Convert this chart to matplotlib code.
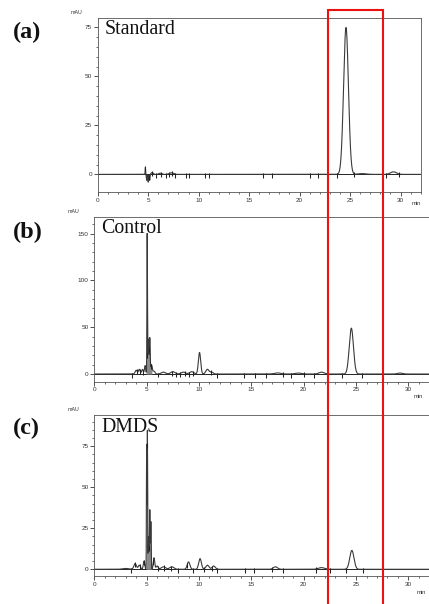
import numpy as np
import matplotlib
matplotlib.use("Agg")
import matplotlib.pyplot as plt
from matplotlib.patches import Rectangle

# ---------------- data ----------------
panel_labels = ["(a)", "(b)", "(c)"]
sample_names = ["Standard", "Control", "DMDS"]

# peak tables: retention time (min), height (mAU), sigma (min)
peaks_a_rt = [4.72, 4.85, 5.0, 5.15, 5.4, 6.2, 7.3, 24.6, 26.2, 29.3]
peaks_a_h = [3.5, -3.0, -4.0, -3.0, 1.0, 0.6, 0.8, 75.0, 0.4, 1.3]
peaks_a_w = [0.02, 0.03, 0.03, 0.03, 0.10, 0.15, 0.2, 0.24, 0.4, 0.3]

peaks_b_rt = [4.0, 4.3, 4.6, 4.85, 5.05, 5.15, 5.22, 5.3, 5.45, 5.7, 6.6, 7.5,
              8.5, 9.3, 10.05, 10.8, 11.2, 17.5, 19.5, 21.7, 24.55, 29.2]
peaks_b_h = [4.0, 5.0, 5.0, 9.0, 150.0, 30.0, 18.0, 32.0, 10.0, 3.0, 2.0, 2.5,
             2.0, 2.5, 23.0, 5.0, 2.0, 1.2, 1.0, 2.0, 49.0, 1.0]
peaks_b_w = [0.10, 0.08, 0.08, 0.06, 0.025, 0.03, 0.05, 0.03, 0.08, 0.10, 0.2, 0.2,
             0.2, 0.2, 0.11, 0.15, 0.15, 0.3, 0.3, 0.25, 0.2, 0.25]

peaks_c_rt = [3.0, 3.9, 4.3, 4.75, 5.0, 5.07, 5.18, 5.3, 5.4, 5.7, 6.0, 6.6, 7.4,
              9.0, 10.1, 10.8, 11.4, 17.3, 21.7, 24.6]
peaks_c_h = [0.5, 3.5, 2.5, 5.0, 76.0, 84.0, 20.0, 36.0, 29.0, 7.0, 2.0, 1.5, 1.5,
             4.5, 6.5, 2.5, 2.0, 1.5, 1.0, 11.5]
peaks_c_w = [0.3, 0.12, 0.10, 0.07, 0.022, 0.02, 0.04, 0.03, 0.03, 0.07, 0.1, 0.2, 0.2,
             0.13, 0.13, 0.15, 0.15, 0.2, 0.3, 0.2]

# integration event markers (min)
marks_a = [4.72, 5.05, 5.37, 5.8, 6.23, 6.72, 7.02, 7.34, 7.67, 8.76, 9.08, 10.63,
           11.05, 16.37, 17.22, 21.06, 21.81, 23.68, 25.4, 28.6, 29.85]
marks_b = [3.63, 4.05, 4.36, 4.68, 5.0, 5.19, 5.42, 6.11, 7.39, 7.8, 8.18, 8.66,
           9.04, 9.46, 11.12, 11.75, 14.33, 15.35, 16.4, 17.99, 18.76, 20.03,
           20.98, 22.35, 23.63, 25.54]
marks_c = [3.47, 3.89, 4.36, 4.75, 5.0, 5.22, 5.64, 6.11, 6.66, 7.3, 8.02, 8.88,
           9.46, 10.48, 11.21, 11.75, 14.39, 15.25, 16.94, 17.99, 21.17, 22.51,
           24.0, 25.69]

ylims = [(-9, 80), (-8.2, 168), (-4.1, 93.9)]
xlims = [(0, 31.8), (0, 32.5), (0, 32.5)]
yticks = [[0, 25, 50, 75], [0, 50, 100, 150], [0, 25, 50, 75]]
yminor = [5, 10, 5]
xticks = [0, 5, 10, 15, 20, 25, 30]
mark_len = [1.8, 3.8, 2.2]

# ---------------- figure ----------------
W, H = 429, 604
fig = plt.figure(figsize=(W / 100, H / 100), dpi=100)

def px_axes(left, top, right, bottom):
    return fig.add_axes([left / W, 1 - bottom / H, (right - left) / W, (bottom - top) / H])

ax_boxes = [(97.7, 17.7, 420.7, 192.0),
            (94.3, 216.7, 94.3 + 32.5 * 10.47, 381.7),
            (94.3, 415.3, 94.3 + 32.5 * 10.47, 576.0)]

peak_sets = [(peaks_a_rt, peaks_a_h, peaks_a_w),
             (peaks_b_rt, peaks_b_h, peaks_b_w),
             (peaks_c_rt, peaks_c_h, peaks_c_w)]
mark_sets = [marks_a, marks_b, marks_c]
label_y = [32, 232, 428]
min_pos = [(416, 204), (418, 397), (421, 593)]

t = np.linspace(0, 33, 12000)
serif = ["Liberation Serif", "DejaVu Serif"]
sans = ["Liberation Sans", "DejaVu Sans"]

for i in range(3):
    ax = px_axes(*ax_boxes[i])
    rts, hs, ws = peak_sets[i]
    y = np.zeros_like(t)
    for rt, h, w in zip(rts, hs, ws):
        y += h * np.exp(-0.5 * ((t - rt) / w) ** 2)
    ax.axhline(0, color="#222222", lw=0.7, zorder=1)
    ax.plot(t, y, color="#3a3a3a", lw=0.8, zorder=2)
    if i > 0:
        m = (t > 4.95) & (t < 5.5)
        ax.fill_between(t[m], 0, y[m], color="#8a8a8a", lw=0, zorder=1.5)
    ml = mark_len[i]
    for k, mt in enumerate(mark_sets[i]):
        yv = np.interp(mt, t, y)
        ax.vlines(mt, yv - ml, yv + ml * 0.4, color="#222222", lw=0.75, zorder=3)

    ax.set_xlim(*xlims[i])
    ax.set_ylim(*ylims[i])
    ax.set_xticks(xticks)
    ax.set_xticks(np.arange(0, 33, 1), minor=True)
    ax.set_yticks(yticks[i])
    ax.set_yticks(np.arange(0, ylims[i][1], yminor[i]), minor=True)
    ax.tick_params(axis="both", which="major", direction="out", length=3, width=0.6,
                   labelsize=4.6, labelcolor="#333333", color="#333333", pad=1)
    ax.tick_params(axis="both", which="minor", direction="out", length=1.6, width=0.5,
                   color="#333333")
    for lab in ax.get_xticklabels() + ax.get_yticklabels():
        lab.set_family(sans)
    for s in ax.spines.values():
        s.set_linewidth(0.6)
        s.set_color("#555555")

    ax.text(0.02, 0.985, sample_names[i], transform=ax.transAxes, ha="left", va="top",
            fontsize=14.3, family=serif, color="#111111")
    fig.text(13 / W, 1 - label_y[i] / H, panel_labels[i], ha="left", va="center",
             fontsize=17.5, fontweight="bold", family=serif, color="#111111")
    l, tp, r, b = ax_boxes[i]
    fig.text((l - 27) / W, 1 - (tp - 3) / H, "mAU", ha="left", va="bottom",
             fontsize=3.8, family=sans, color="#333333")
    fig.text(min_pos[i][0] / W, 1 - min_pos[i][1] / H, "min", ha="center", va="center",
             fontsize=4.2, family=sans, color="#333333")

# red highlight box spanning all panels
fig.add_artist(Rectangle((327.7 / W, -0.01), (382.7 - 327.7) / W, 1.01 - 10.3 / H,
                         transform=fig.transFigure, fill=False, edgecolor="#ee1111",
                         lw=1.5, zorder=10))

fig.savefig("out.png", dpi=100)
